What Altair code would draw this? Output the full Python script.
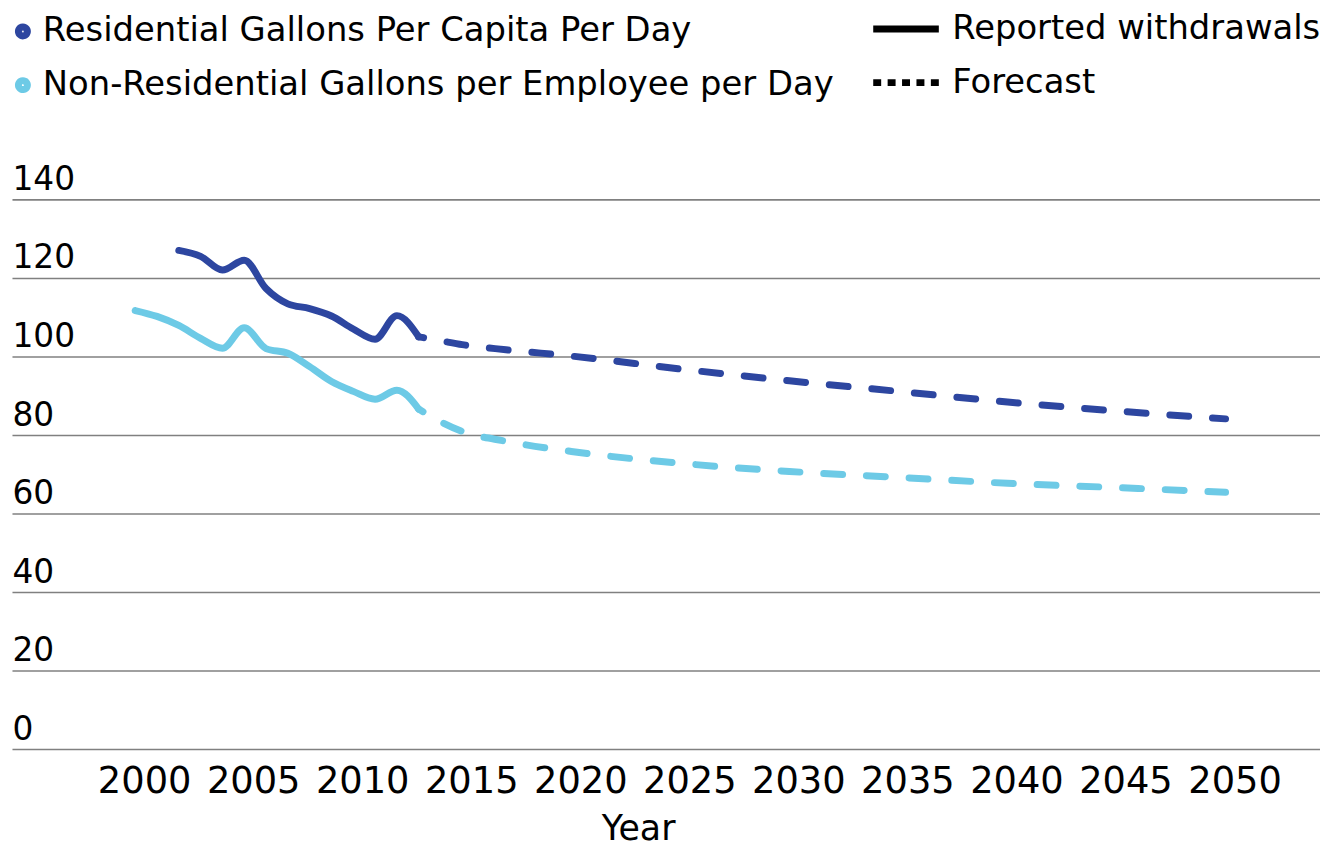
import altair as alt
import pandas as pd

FONT = "DejaVu Sans"

series_names = ["Residential Gallons Per Capita Per Day",
                "Non-Residential Gallons per Employee per Day"]
series_colors = ["#2D46A0", "#6DCAE6"]
kind_names = ["Reported withdrawals", "Forecast"]

res_rep_years = list(range(2002, 2014))
res_rep_values = [127.0, 125.5, 122.0, 124.5, 117.3, 113.4, 112.2, 110.3, 107.0, 104.4, 110.4, 105.0]
non_rep_years = list(range(2000, 2014))
non_rep_values = [111.7, 110.2, 107.9, 104.6, 102.1, 107.3, 102.0, 100.8, 97.4, 93.6, 91.1, 89.1, 91.4, 86.6]
fc_years = [2013, 2014, 2015, 2017, 2020, 2025, 2030, 2035, 2040, 2045, 2050]
res_fc_values = [105.0, 104.0, 103.0, 101.7, 100.1, 96.8, 93.8, 91.1, 88.4, 86.1, 84.1]
non_fc_values = [86.6, 83.4, 80.9, 78.4, 75.8, 72.8, 70.7, 69.2, 67.7, 66.6, 65.4]

x_ticks = list(range(2000, 2051, 5))
y_ticks = list(range(0, 141, 20))

rows = []
for yr, v in zip(res_rep_years, res_rep_values):
    rows.append({"year": yr, "value": v, "series": series_names[0], "kind": kind_names[0]})
for yr, v in zip(non_rep_years, non_rep_values):
    rows.append({"year": yr, "value": v, "series": series_names[1], "kind": kind_names[0]})
for yr, v in zip(fc_years, res_fc_values):
    rows.append({"year": yr, "value": v, "series": series_names[0], "kind": kind_names[1]})
for yr, v in zip(fc_years, non_fc_values):
    rows.append({"year": yr, "value": v, "series": series_names[1], "kind": kind_names[1]})
df = pd.DataFrame(rows)

x = alt.X(
    "year:Q",
    scale=alt.Scale(domain=[1994.35, 2054.33], nice=False, zero=False),
    axis=alt.Axis(
        values=x_ticks, format="d", title="Year", grid=False, ticks=False, tickSize=0,
        domain=False, labelFont=FONT, labelFontSize=37, labelColor="black",
        labelPadding=15, labelOffset=9, labelFlush=False, labelOverlap=False,
        titleFont=FONT, titleFontSize=35, titleFontWeight="normal", titleColor="black",
        titleX=630, titleY=91, titleBaseline="alphabetic", titleAlign="center",
    ),
)
y = alt.Y(
    "value:Q",
    scale=alt.Scale(domain=[0, 140], nice=False),
    axis=alt.Axis(
        values=y_ticks, title=None, grid=True, gridColor="#808080", gridWidth=1.6,
        ticks=False, tickSize=0, domain=False, labelAlign="left",
        labelBaseline="alphabetic", labelOffset=-10, labelPadding=0,
        labelFont=FONT, labelFontSize=33, labelColor="black",
    ),
)

color = alt.Color(
    "series:N",
    scale=alt.Scale(domain=series_names, range=series_colors),
    legend=alt.Legend(
        orient="none", legendX=-6, legendY=-186, title=None, direction="vertical",
        symbolType="circle", symbolSize=49, symbolStrokeWidth=9, symbolDash=[1, 0],
        symbolOpacity=1,
        labelFont=FONT, labelFontSize=34, labelColor="black", labelLimit=2000,
        labelOffset=3, rowPadding=10, padding=0,
    ),
)

base = alt.Chart(df)

rep = base.transform_filter(alt.datum.kind == kind_names[0]).mark_line(
    strokeWidth=7, strokeCap="round", strokeJoin="round", interpolate="monotone"
).encode(x=x, y=y, color=color)

fc = base.transform_filter(alt.datum.kind == kind_names[1]).mark_line(
    strokeWidth=7, strokeCap="round", strokeJoin="round", interpolate="monotone",
    strokeDash=[19, 24], strokeDashOffset=14
).encode(x=x, y=y, color=color)

leg_dash = base.transform_filter("false").transform_calculate(
    legend_kind="datum.kind"
).mark_line(color="black", strokeWidth=7, strokeCap="butt").encode(
    x=x, y=y,
    strokeDash=alt.StrokeDash(
        "legend_kind:N",
        scale=alt.Scale(domain=kind_names, range=[[1, 0], [8, 6.5]]),
        legend=alt.Legend(
            orient="none", legendX=863, legendY=-208, title=None, direction="vertical",
            symbolType="stroke", symbolSize=4356, symbolStrokeWidth=7,
            symbolStrokeColor="black", symbolOpacity=1,
            labelFont=FONT, labelFontSize=34, labelColor="black", labelLimit=2000,
            labelOffset=10, rowPadding=-21, padding=0,
        ),
    ),
)

chart = alt.layer(rep, fc, leg_dash).properties(
    width=1316, height=553,
    autosize=alt.AutoSizeParams(type="none"),
    padding={"left": 4, "top": 190, "right": 0, "bottom": 100},
    background="white",
).configure_view(stroke=None)

chart.save("out.html", embed_options={"renderer": "svg", "actions": False})
